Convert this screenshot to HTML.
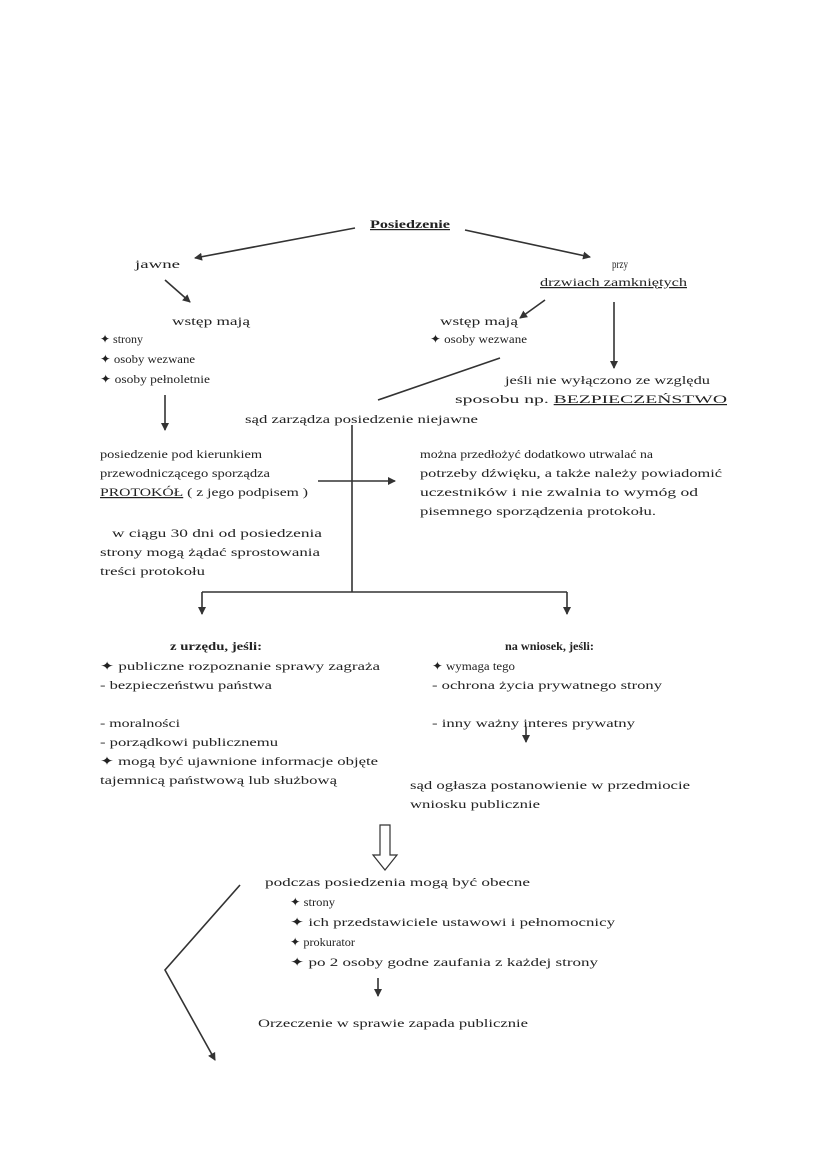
<!DOCTYPE html>
<html><head><meta charset="utf-8"><style>
html,body{margin:0;padding:0;background:#fff;}
svg{display:block;}
text{font-family:"Liberation Serif",serif;font-size:12px;fill:#222;}
</style></head><body>
<svg width="826" height="1169" viewBox="0 0 826 1169" xmlns="http://www.w3.org/2000/svg">
<defs><marker id="a" markerWidth="8" markerHeight="8" refX="7" refY="4" orient="auto" markerUnits="userSpaceOnUse"><path d="M0,0 L8,4 L0,8 z" fill="#333"/></marker></defs>
<g stroke="#333" stroke-width="1.6" fill="none">
<line x1="355" y1="228" x2="195" y2="258" marker-end="url(#a)"/>
<line x1="465" y1="230" x2="590" y2="257" marker-end="url(#a)"/>
<line x1="165" y1="280" x2="190" y2="302" marker-end="url(#a)"/>
<line x1="545" y1="300" x2="520" y2="318" marker-end="url(#a)"/>
<line x1="614" y1="302" x2="614" y2="368" marker-end="url(#a)"/>
<line x1="165" y1="395" x2="165" y2="430" marker-end="url(#a)"/>
<line x1="378" y1="400" x2="500" y2="358"/>
<line x1="352" y1="425" x2="352" y2="592"/>
<line x1="318" y1="481" x2="395" y2="481" marker-end="url(#a)"/>
<line x1="202" y1="592" x2="567" y2="592"/>
<line x1="202" y1="592" x2="202" y2="614" marker-end="url(#a)"/>
<line x1="567" y1="592" x2="567" y2="614" marker-end="url(#a)"/>
<line x1="526" y1="727" x2="526" y2="742" marker-end="url(#a)"/>
<line x1="378" y1="978" x2="378" y2="996" marker-end="url(#a)"/>
<polyline points="240,885 165,970 215,1060" marker-end="url(#a)"/>
<path d="M380,825 h10 v30 h7 l-12,15 l-12,-15 h7 z" stroke-width="1.2"/>
</g>
<g lengthAdjust="spacingAndGlyphs">
<text x="370" y="228" font-weight="bold" text-decoration="underline" textLength="80" lengthAdjust="spacingAndGlyphs">Posiedzenie</text>
<text x="135" y="268" textLength="45" lengthAdjust="spacingAndGlyphs">jawne</text>
<text x="612" y="268" textLength="16" lengthAdjust="spacingAndGlyphs">przy</text>
<text x="540" y="286" text-decoration="underline" textLength="147" lengthAdjust="spacingAndGlyphs">drzwiach zamkniętych</text>
<text x="172" y="325" textLength="78" lengthAdjust="spacingAndGlyphs">wstęp mają</text>
<text x="100" y="343" textLength="43" lengthAdjust="spacingAndGlyphs">✦ strony</text>
<text x="100" y="363" textLength="95" lengthAdjust="spacingAndGlyphs">✦ osoby wezwane</text>
<text x="100" y="383" textLength="110" lengthAdjust="spacingAndGlyphs">✦ osoby pełnoletnie</text>
<text x="440" y="325" textLength="78" lengthAdjust="spacingAndGlyphs">wstęp mają</text>
<text x="430" y="343" textLength="97" lengthAdjust="spacingAndGlyphs">✦ osoby wezwane</text>
<text x="505" y="384" textLength="205" lengthAdjust="spacingAndGlyphs">jeśli nie wyłączono ze względu</text>
<text x="455" y="403" textLength="272" lengthAdjust="spacingAndGlyphs">sposobu np. <tspan text-decoration="underline">BEZPIECZEŃSTWO</tspan></text>
<text x="245" y="423" textLength="233" lengthAdjust="spacingAndGlyphs">sąd zarządza posiedzenie niejawne</text>
<text x="100" y="458" textLength="162" lengthAdjust="spacingAndGlyphs">posiedzenie pod kierunkiem</text>
<text x="100" y="477" textLength="170" lengthAdjust="spacingAndGlyphs">przewodniczącego sporządza</text>
<text x="100" y="496" textLength="208" lengthAdjust="spacingAndGlyphs"><tspan text-decoration="underline">PROTOKÓŁ</tspan> ( z jego podpisem )</text>
<text x="420" y="458" textLength="233" lengthAdjust="spacingAndGlyphs">można przedłożyć dodatkowo utrwalać na</text>
<text x="420" y="477" textLength="302" lengthAdjust="spacingAndGlyphs">potrzeby dźwięku, a także należy powiadomić</text>
<text x="420" y="496" textLength="278" lengthAdjust="spacingAndGlyphs">uczestników i nie zwalnia to wymóg od</text>
<text x="420" y="515" textLength="236" lengthAdjust="spacingAndGlyphs">pisemnego sporządzenia protokołu.</text>
<text x="112" y="537" textLength="210" lengthAdjust="spacingAndGlyphs">w ciągu 30 dni od posiedzenia</text>
<text x="100" y="556" textLength="220" lengthAdjust="spacingAndGlyphs">strony mogą żądać sprostowania</text>
<text x="100" y="575" textLength="105" lengthAdjust="spacingAndGlyphs">treści protokołu</text>
<text x="170" y="650" font-weight="bold" textLength="92" lengthAdjust="spacingAndGlyphs">z urzędu, jeśli:</text>
<text x="100" y="670" textLength="280" lengthAdjust="spacingAndGlyphs">✦ publiczne rozpoznanie sprawy zagraża</text>
<text x="100" y="689" textLength="172" lengthAdjust="spacingAndGlyphs">- bezpieczeństwu państwa</text>
<text x="100" y="727" textLength="80" lengthAdjust="spacingAndGlyphs">- moralności</text>
<text x="100" y="746" textLength="178" lengthAdjust="spacingAndGlyphs">- porządkowi publicznemu</text>
<text x="100" y="765" textLength="278" lengthAdjust="spacingAndGlyphs">✦ mogą być ujawnione informacje objęte</text>
<text x="100" y="784" textLength="237" lengthAdjust="spacingAndGlyphs">tajemnicą państwową lub służbową</text>
<text x="505" y="650" font-weight="bold" textLength="89" lengthAdjust="spacingAndGlyphs">na wniosek, jeśli:</text>
<text x="432" y="670" textLength="83" lengthAdjust="spacingAndGlyphs">✦ wymaga tego</text>
<text x="432" y="689" textLength="230" lengthAdjust="spacingAndGlyphs">- ochrona życia prywatnego strony</text>
<text x="432" y="727" textLength="203" lengthAdjust="spacingAndGlyphs">- inny ważny interes prywatny</text>
<text x="410" y="789" textLength="280" lengthAdjust="spacingAndGlyphs">sąd ogłasza postanowienie w przedmiocie</text>
<text x="410" y="808" textLength="130" lengthAdjust="spacingAndGlyphs">wniosku publicznie</text>
<text x="265" y="886" textLength="265" lengthAdjust="spacingAndGlyphs">podczas posiedzenia mogą być obecne</text>
<text x="290" y="906" textLength="45" lengthAdjust="spacingAndGlyphs">✦ strony</text>
<text x="290" y="926" textLength="325" lengthAdjust="spacingAndGlyphs">✦ ich przedstawiciele ustawowi i pełnomocnicy</text>
<text x="290" y="946" textLength="65" lengthAdjust="spacingAndGlyphs">✦ prokurator</text>
<text x="290" y="966" textLength="308" lengthAdjust="spacingAndGlyphs">✦ po 2 osoby godne zaufania z każdej strony</text>
<text x="258" y="1027" textLength="270" lengthAdjust="spacingAndGlyphs">Orzeczenie w sprawie zapada publicznie</text>
</g>
</svg>
</body></html>
